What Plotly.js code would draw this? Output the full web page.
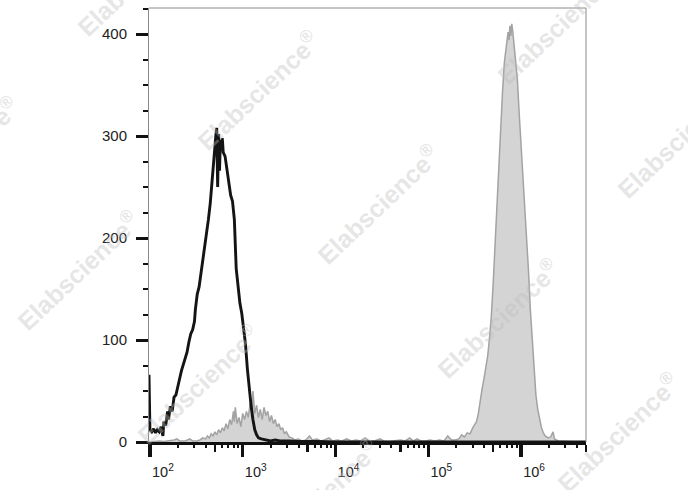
<!DOCTYPE html>
<html>
<head>
<meta charset="utf-8">
<script src="https://cdn.plot.ly/plotly-3.0.1.min.js"></script>
<style>html,body{margin:0;padding:0;background:#fff;}#chart{width:688px;height:490px;}</style>
</head>
<body>
<div id="chart"></div>
<script>
// Stained sample (grey filled histogram): x as log10(intensity), y = count
const grayLog = [1.99,2.05,2.10,2.15,2.20,2.26,2.29,2.32,2.38,2.43,2.46,2.50,2.54,2.57,2.60,2.62,2.64,2.66,2.68,2.70,2.72,2.74,2.76,2.78,2.80,2.82,2.84,2.86,2.88,2.90,2.91,2.92,2.94,2.96,2.98,3.00,3.02,3.04,3.06,3.08,3.10,3.11,3.13,3.15,3.17,3.19,3.21,3.23,3.25,3.27,3.29,3.31,3.33,3.35,3.37,3.39,3.41,3.43,3.45,3.47,3.50,3.53,3.56,3.60,3.64,3.68,3.72,3.75,3.80,3.84,3.88,3.93,3.97,4.02,4.07,4.12,4.17,4.22,4.27,4.32,4.36,4.42,4.48,4.52,4.58,4.64,4.70,4.75,4.80,4.84,4.88,4.92,4.97,5.02,5.07,5.12,5.17,5.21,5.25,5.29,5.33,5.36,5.39,5.42,5.45,5.48,5.50,5.52,5.54,5.56,5.58,5.60,5.62,5.64,5.66,5.68,5.70,5.72,5.74,5.76,5.78,5.80,5.82,5.84,5.86,5.87,5.88,5.89,5.90,5.91,5.92,5.94,5.96,5.98,6.00,6.02,6.04,6.06,6.08,6.10,6.12,6.14,6.16,6.18,6.20,6.22,6.24,6.26,6.29,6.32,6.345,6.36,6.40,6.45,6.50,6.60,6.70];
const grayCount = [0,0.5,1,0.5,1,2,3,1,1,3,1,1,2,4,3,6,4,8,6,10,7,12,9,14,11,18,13,22,17,30,20,34,18,24,15,28,22,30,24,38,30,50,28,36,24,32,22,34,26,30,20,26,18,22,15,18,12,14,8,10,5,4,2,3,1,2,6,2,3,1,2,4,1,2,1,3,1,2,1,4,1,1,3,1,0.5,1,2,1,4,1,3,1,1,2,1,2,1,6,2,2,3,7,5,9,8,14,17,20,28,42,52,62,72,84,102,124,156,196,235,272,308,343,372,390,402,394,408,398,410,403,394,378,356,322,292,262,232,204,168,130,98,68,46,32,22,14,9,6,4,5,10,3,1,1,0.5,0,0];

// Isotype control (black outline histogram)
const blackLog = [1.99,1.995,2.00,2.02,2.04,2.06,2.08,2.10,2.12,2.14,2.15,2.17,2.19,2.20,2.22,2.24,2.26,2.28,2.30,2.32,2.34,2.36,2.38,2.40,2.42,2.44,2.46,2.48,2.49,2.51,2.53,2.55,2.57,2.59,2.61,2.63,2.65,2.67,2.69,2.70,2.71,2.72,2.73,2.74,2.75,2.76,2.77,2.78,2.79,2.81,2.83,2.85,2.87,2.89,2.91,2.93,2.95,2.97,2.99,3.01,3.03,3.05,3.07,3.09,3.11,3.13,3.15,3.17,3.20,3.25,3.30,3.35,3.40,3.50,3.60,3.80,4.00,6.70];
const blackCount = [66,30,12,10,13,9,12,10,15,6,20,16,30,22,35,30,44,46,56,62,70,76,80,88,98,106,110,118,130,145,152,165,178,188,200,218,234,258,276,290,300,308,250,302,266,296,288,298,284,280,268,255,242,236,218,170,150,136,126,110,96,72,52,36,22,12,7,4,3,2,1,2,1,1,0.5,0.5,0,0];

const yMajor = [0,100,200,300,400];
const xMajorExp = [2,3,4,5,6];
const decadeExp = [1,2,3,4,5,6];
const minorMults = [2,3,4,6,7,8,9];
const midMult = 5;

const xMinorVals = [];
decadeExp.forEach(e => minorMults.forEach(m => xMinorVals.push(m * Math.pow(10, e))));
const xMidVals = decadeExp.map(e => midMult * Math.pow(10, e));

const toLin = a => a.map(v => Math.pow(10, v));
const X_RANGE = [1.99, 6.70];

const traces = [
  {x: toLin(grayLog), y: grayCount, type: 'scatter', mode: 'lines', fill: 'tozeroy', xaxis: 'x',
   fillcolor: '#d4d4d4', line: {color: '#a3a3a3', width: 1.5}, hoverinfo: 'skip'},
  {x: toLin(blackLog), y: blackCount, type: 'scatter', mode: 'lines', xaxis: 'x2',
   line: {color: '#141414', width: 2.9}, hoverinfo: 'skip'}
];

// Watermark centres in page pixels
const wmPx = [[138,-24],[258,90],[378,204],[498,318],[618,432],[558,24],[678,138],[-42,156],[78,270],[198,384],[318,498]];
const L = 149, T = 8, W = 437, H = 434;
const annotations = wmPx.map(p => ({
  text: 'Elabscience<sup>®</sup>', xref: 'paper', yref: 'paper',
  x: (p[0] - L) / W, y: (T + H - p[1]) / H, xanchor: 'center', yanchor: 'middle',
  showarrow: false, textangle: -43.5,
  font: {family: 'Liberation Sans, Arial, sans-serif', size: 25, color: 'rgba(190,190,190,0.40)', weight: 'bold'}
}));

const layout = {
  width: 688, height: 490,
  margin: {l: L, r: 688 - L - W, t: T, b: 490 - T - H, pad: 0},
  paper_bgcolor: '#fff', plot_bgcolor: '#fff',
  showlegend: false,
  font: {family: 'Liberation Sans, Arial, sans-serif', size: 15, color: '#222'},
  xaxis: {
    type: 'log', range: X_RANGE, showgrid: false, zeroline: false,
    showline: true, linecolor: '#111', linewidth: 2.5, mirror: false,
    ticks: 'outside', ticklen: 12, tickwidth: 3.5, tickcolor: '#111',
    tickvals: xMajorExp.map(e => Math.pow(10, e)),
    ticktext: xMajorExp.map(e => '10<sup>' + e + '</sup>'),
    ticklabelshift: 13, ticklabelstandoff: 3,
    tickfont: {size: 14.5, color: '#222'},
    minor: {tickvals: xMidVals, ticks: 'outside', ticklen: 7, tickwidth: 2.5, tickcolor: '#111', showgrid: false}
  },
  xaxis2: {
    type: 'log', range: X_RANGE, overlaying: 'x', anchor: 'y', side: 'bottom',
    showgrid: false, zeroline: false, showline: false,
    ticks: 'outside', ticklen: 5, tickwidth: 2, tickcolor: '#111',
    tickvals: xMinorVals, showticklabels: false
  },
  yaxis: {
    range: [0, 425.5], showgrid: false, zeroline: false,
    showline: true, linecolor: '#8a8a8a', linewidth: 1, mirror: false,
    ticks: 'outside', ticklen: 12, tickwidth: 3, tickcolor: '#111',
    tickvals: yMajor, ticktext: yMajor.map(String),
    ticklabelstandoff: 6,
    tickfont: {size: 15, color: '#222'},
    minor: {dtick: 25, ticks: 'outside', ticklen: 5, tickwidth: 2, tickcolor: '#111', showgrid: false}
  },
  shapes: [
    {type: 'line', xref: 'paper', yref: 'paper', x0: 0, x1: 1, y0: 1, y1: 1, line: {color: '#8a8a8a', width: 1}},
    {type: 'line', xref: 'paper', yref: 'paper', x0: 1, x1: 1, y0: 0, y1: 1, line: {color: '#8a8a8a', width: 1}}
  ],
  annotations: annotations
};

Plotly.newPlot('chart', traces, layout, {displayModeBar: false, staticPlot: true});
</script>
</body>
</html>
